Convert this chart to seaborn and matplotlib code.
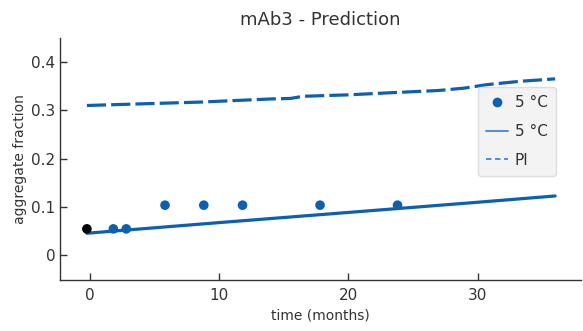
import numpy as np
import pandas as pd
import matplotlib
matplotlib.use("Agg")
import matplotlib.pyplot as plt
from matplotlib.lines import Line2D
from matplotlib.ticker import FuncFormatter
import seaborn as sns

# measured aggregate fraction at 5 °C
obs_months = [1.8, 2.8, 5.8, 8.8, 11.8, 17.8, 23.8]
obs_values = [0.055, 0.055, 0.104, 0.104, 0.104, 0.104, 0.104]

# initial (t0) measurement
init_month = [-0.25]
init_value = [0.055]

# model prediction at 5 °C
fit_months = [-0.25, 10.0, 20.0, 30.0, 36.0]
fit_values = [0.046, 0.068, 0.089, 0.110, 0.123]

# upper prediction interval
pi_months = [-0.25, 8.5, 14.0, 15.5, 16.5, 20.0, 23.0, 27.0, 29.0, 30.7, 33.3, 36.0]
pi_values = [0.310, 0.317, 0.3235, 0.3245, 0.329, 0.332, 0.336, 0.341, 0.346, 0.353, 0.360, 0.365]

x_ticks = [0, 10, 20, 30]
y_ticks = [0, 0.1, 0.2, 0.3, 0.4]

blue = "#0d5fb0"

sns.set_style("ticks")
plt.rcParams["font.family"] = ["DejaVu Sans"]

fig = plt.figure(figsize=(5.83, 3.31), dpi=100)
ax = fig.add_axes([0.1025, 0.155, 0.894, 0.731])

obs = pd.DataFrame({"t": obs_months, "y": obs_values})
init = pd.DataFrame({"t": init_month, "y": init_value})
fit = pd.DataFrame({"t": fit_months, "y": fit_values})
pi = pd.DataFrame({"t": pi_months, "y": pi_values})

sns.lineplot(data=fit, x="t", y="y", ax=ax, color=blue, lw=2.3, zorder=2)
sns.lineplot(data=pi, x="t", y="y", ax=ax, color=blue, lw=2.3,
             dashes=False, zorder=2).lines[-1].set_dashes((6.0, 1.6))
sns.scatterplot(data=obs, x="t", y="y", ax=ax, color=blue, s=48,
                edgecolor="none", zorder=3)
sns.scatterplot(data=init, x="t", y="y", ax=ax, color="black", s=48,
                edgecolor="none", zorder=3)

ax.set_xlim(-2.35, 38.0)
ax.set_ylim(-0.05, 0.45)
ax.set_xticks(x_ticks)
ax.set_yticks(y_ticks)
ax.yaxis.set_major_formatter(FuncFormatter(lambda v, p: f"{v:g}"))
ax.tick_params(direction="in", length=5, width=1, colors="#333333",
               labelsize=11, labelcolor="#333333")
ax.tick_params(axis="x", pad=6)
ax.tick_params(axis="y", pad=3)

for side in ("top", "right"):
    ax.spines[side].set_visible(False)
for side in ("left", "bottom"):
    ax.spines[side].set_color("#333333")
    ax.spines[side].set_linewidth(1.0)

ax.set_xlabel("time (months)", fontsize=10, color="#333333", labelpad=4)
ax.set_ylabel("aggregate fraction", fontsize=10, color="#333333", labelpad=3)
ax.set_title("mAb3 - Prediction", fontsize=13, color="#333333", pad=9)

handles = [
    Line2D([], [], ls="none", marker="o", ms=7, color=blue, mec="none"),
    Line2D([], [], color="#3f86cc", lw=1.3),
    Line2D([], [], color="#3f86cc", lw=1.3, dashes=(3, 2)),
]
leg = ax.legend(handles, ["5 °C", "5 °C", "PI"], loc="upper right",
                bbox_to_anchor=(0.952, 0.797), borderaxespad=0,
                fontsize=11, frameon=True, fancybox=True,
                labelspacing=0.9, handlelength=1.4, handletextpad=0.45,
                borderpad=0.55)
frame = leg.get_frame()
frame.set_facecolor("#f3f3f3")
frame.set_edgecolor("#dddddd")
frame.set_alpha(1)
for t in leg.get_texts():
    t.set_color("#333333")

fig.savefig("out.png", dpi=100)
